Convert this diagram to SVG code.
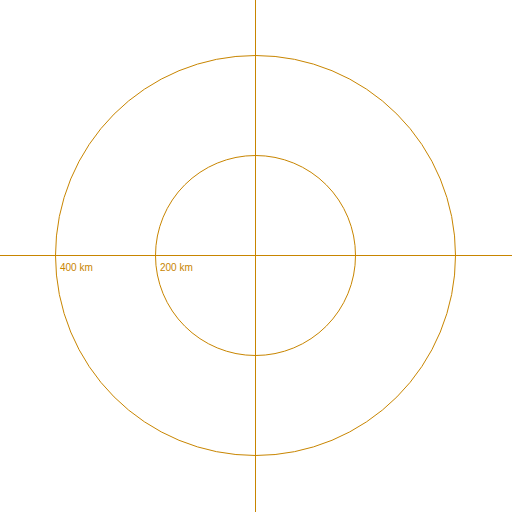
<svg xmlns="http://www.w3.org/2000/svg" width="512" height="512" viewBox="0 0 512 512">
<style>
.l{stroke:#c88500;stroke-width:1;fill:none}
.t{font-family:"Liberation Sans",Arial,sans-serif;font-size:10px;fill:#c88500}
</style>
<rect width="512" height="512" fill="#fff"/>
<g id="axes">
<line class="l" x1="0" y1="255.5" x2="512" y2="255.5"/>
<line class="l" x1="255.5" y1="0" x2="255.5" y2="512"/>
</g>
<g id="ring400">
<circle class="l" cx="255.5" cy="255.5" r="200"/>
<text class="t" x="60" y="271">400 km</text>
</g>
<g id="ring200">
<circle class="l" cx="255.5" cy="255.5" r="100"/>
<text class="t" x="160" y="271">200 km</text>
</g>
</svg>
